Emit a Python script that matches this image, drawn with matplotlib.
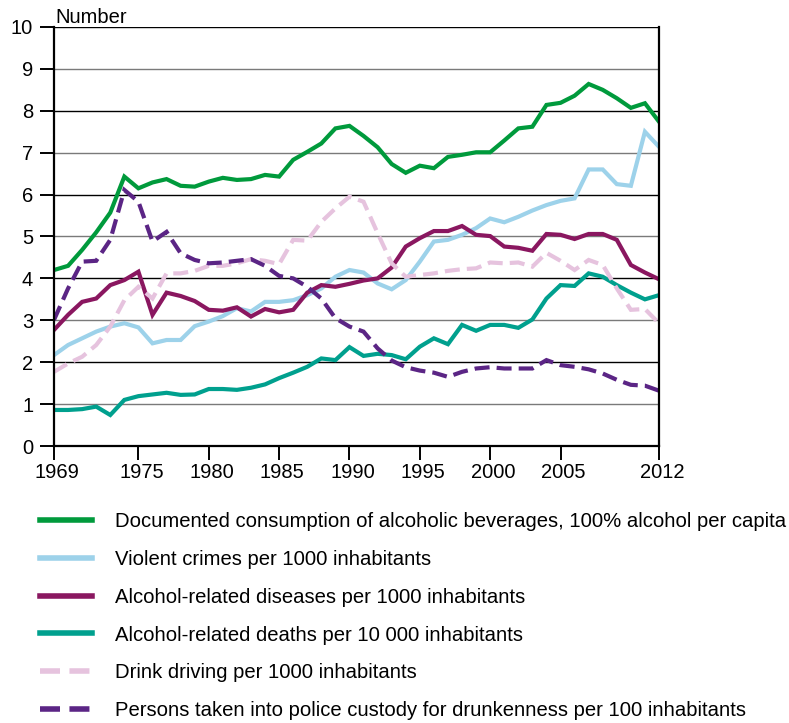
import matplotlib
matplotlib.use("Agg")
import matplotlib.pyplot as plt
from matplotlib.transforms import ScaledTranslation

plt.rcParams["font.family"] = ["Liberation Sans", "DejaVu Sans"]

years = list(range(1969, 2013))

consumption = [4.20, 4.30, 4.68, 5.10, 5.57, 6.43, 6.15, 6.29, 6.37, 6.21,
               6.19, 6.31, 6.40, 6.35, 6.37, 6.47, 6.43, 6.83, 7.02, 7.22,
               7.58, 7.64, 7.40, 7.13, 6.73, 6.52, 6.69, 6.63, 6.90, 6.95,
               7.01, 7.01, 7.29, 7.58, 7.62, 8.14, 8.19, 8.36, 8.64, 8.50,
               8.30, 8.07, 8.18, 7.74]

violent_crimes = [2.17, 2.41, 2.57, 2.73, 2.85, 2.93, 2.83, 2.45, 2.53, 2.53,
                  2.86, 2.97, 3.10, 3.29, 3.21, 3.44, 3.44, 3.48, 3.60, 3.76,
                  4.04, 4.20, 4.14, 3.88, 3.74, 3.96, 4.40, 4.88, 4.92, 5.04,
                  5.20, 5.43, 5.34, 5.47, 5.62, 5.75, 5.85, 5.91, 6.60, 6.60,
                  6.25, 6.21, 7.50, 7.14]

diseases = [2.77, 3.13, 3.44, 3.52, 3.84, 3.96, 4.16, 3.13, 3.66, 3.58,
            3.46, 3.25, 3.23, 3.31, 3.09, 3.27, 3.19, 3.25, 3.66, 3.84,
            3.80, 3.87, 3.95, 4.00, 4.26, 4.76, 4.96, 5.13, 5.13, 5.25,
            5.04, 5.01, 4.76, 4.73, 4.66, 5.06, 5.04, 4.94, 5.06, 5.06,
            4.92, 4.32, 4.14, 3.98]

deaths = [0.86, 0.86, 0.88, 0.94, 0.74, 1.10, 1.19, 1.23, 1.27, 1.22,
          1.23, 1.36, 1.36, 1.34, 1.39, 1.47, 1.62, 1.75, 1.89, 2.09,
          2.05, 2.36, 2.15, 2.20, 2.17, 2.07, 2.37, 2.57, 2.43, 2.89,
          2.75, 2.89, 2.89, 2.82, 3.02, 3.52, 3.84, 3.82, 4.12, 4.04,
          3.84, 3.66, 3.50, 3.60]

drink_driving = [1.77, 1.97, 2.13, 2.41, 2.85, 3.48, 3.80, 3.52, 4.12, 4.12,
                 4.18, 4.30, 4.30, 4.36, 4.46, 4.42, 4.34, 4.92, 4.90, 5.35,
                 5.67, 5.95, 5.83, 5.08, 4.36, 4.04, 4.08, 4.12, 4.18, 4.22,
                 4.24, 4.38, 4.36, 4.38, 4.28, 4.61, 4.42, 4.20, 4.44, 4.32,
                 3.76, 3.25, 3.27, 2.93]

custody = [3.01, 3.76, 4.40, 4.42, 4.92, 6.11, 5.83, 4.88, 5.11, 4.60,
           4.44, 4.36, 4.38, 4.42, 4.46, 4.30, 4.06, 4.00, 3.80, 3.52,
           3.05, 2.85, 2.73, 2.33, 2.04, 1.88, 1.80, 1.75, 1.65, 1.77,
           1.85, 1.88, 1.85, 1.85, 1.85, 2.05, 1.93, 1.89, 1.83, 1.73,
           1.58, 1.46, 1.44, 1.32]

labels = [
    "Documented consumption of alcoholic beverages, 100% alcohol per capita",
    "Violent crimes per 1000 inhabitants",
    "Alcohol-related diseases per 1000 inhabitants",
    "Alcohol-related deaths per 10 000 inhabitants",
    "Drink driving per 1000 inhabitants",
    "Persons taken into police custody for drunkenness per 100 inhabitants",
]

x_ticks = [1969, 1975, 1980, 1985, 1990, 1995, 2000, 2005, 2012]
y_ticks = list(range(0, 11))

series = [consumption, violent_crimes, diseases, deaths, drink_driving, custody]
colors = ["#009a3c", "#9dd2ea", "#8a1760", "#00a08e", "#e6c3de", "#5b2585"]
dashed = [False, False, False, False, True, True]

fig = plt.figure(figsize=(7.89, 7.23), dpi=100)
ax = fig.add_axes([54 / 789, 277 / 723, 605 / 789, 419 / 723])

# horizontal grid: darker lines on even values, grey on odd
for v in y_ticks:
    ax.axhline(v, color="black" if v % 2 == 0 else "#7a7a7a",
               lw=1.0, zorder=1)

handles = []
for vals, c, d, lab in zip(series, colors, dashed, labels):
    kw = dict(color=c, lw=3.0, solid_joinstyle="miter", zorder=3)
    if d:
        kw.update(dashes=(3.6, 1.7), dash_capstyle="butt", dash_joinstyle="miter")
    (ln,) = ax.plot(years, vals, label=lab, **kw)
    handles.append(ln)

ax.set_xlim(1969, 2012)
ax.set_ylim(0, 10)
ax.set_xticks(x_ticks)
ax.set_yticks(y_ticks)
ax.tick_params(axis="both", direction="out", length=10, width=1.4,
               colors="black", labelsize=14.5)
ax.tick_params(axis="y", pad=5)
ax.tick_params(axis="x", pad=2)

# nudge year labels slightly to the right of their ticks
shift = ScaledTranslation(3 / 100, 0, fig.dpi_scale_trans)
for lbl in ax.get_xticklabels():
    lbl.set_transform(lbl.get_transform() + shift)

ax.spines["top"].set_visible(False)
for s in ["left", "right", "bottom"]:
    ax.spines[s].set_linewidth(1.6)
    ax.spines[s].set_color("black")
    ax.spines[s].set_zorder(4)

fig.text(55 / 789, 1 - 22.7 / 723, "Number", fontsize=14.5,
         ha="left", va="baseline")

leg = fig.legend(handles=handles, labels=labels, loc="upper left",
                 bbox_to_anchor=(40 / 789, 1 - 512 / 723),
                 frameon=False, fontsize=14.6, handlelength=2.57,
                 handletextpad=1.12, labelspacing=0.93,
                 borderpad=0, borderaxespad=0)
for h in leg.legend_handles:
    h.set_linewidth(4.0)

fig.savefig("out.png", dpi=100)
